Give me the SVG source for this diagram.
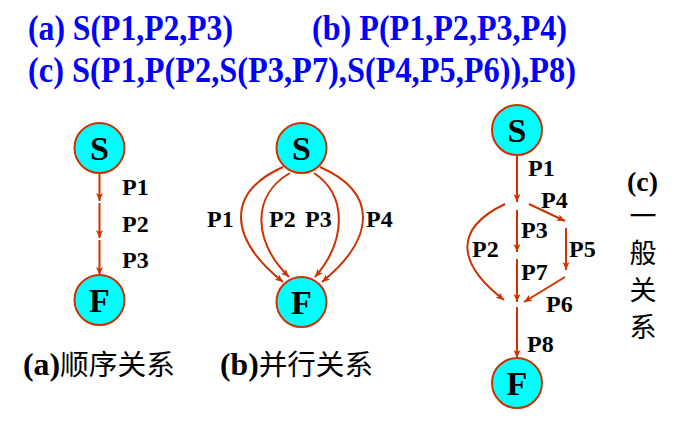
<svg xmlns="http://www.w3.org/2000/svg" width="684" height="428" viewBox="0 0 684 428">
<style>
.title{font-family:"Liberation Serif","Times New Roman",serif;font-weight:bold;font-size:35px;fill:#0000FF}
.node circle{fill:#00FFFF;stroke:#CC3300;stroke-width:2}
.node text{font-family:"Liberation Serif","Times New Roman",serif;font-weight:bold;font-size:34px;fill:#000;text-anchor:middle}
.lbl{font-family:"Liberation Serif","Times New Roman",serif;font-weight:bold;font-size:24px;fill:#000}
.edge{fill:none;stroke:#CC3300;stroke-width:2;marker-end:url(#arr)}
.cap{font-size:28px;fill:#000}
.lat{font-family:"Liberation Serif","Times New Roman",serif;font-weight:bold}
.cjk{font-family:"Noto Sans CJK SC",sans-serif;font-weight:normal}
</style>
<defs>
<marker id="arr" markerUnits="userSpaceOnUse" markerWidth="10" markerHeight="8" refX="8" refY="3.5" orient="auto">
<path d="M0,0 L8,3.5 L0,7 L2,3.5 z" fill="#CC3300"/>
</marker>
</defs>
<rect width="684" height="428" fill="#fff"/>
<text class="title" x="28" y="40" textLength="205" lengthAdjust="spacingAndGlyphs">(a) S(P1,P2,P3)</text>
<text class="title" x="312" y="40" textLength="255" lengthAdjust="spacingAndGlyphs">(b) P(P1,P2,P3,P4)</text>
<text class="title" x="28" y="82" textLength="548" lengthAdjust="spacingAndGlyphs">(c) S(P1,P(P2,S(P3,P7),S(P4,P5,P6)),P8)</text>

<g id="connectors">
<path class="edge" d="M99.5,173 L99.5,201"/>
<path class="edge" d="M99.5,203 L99.5,238"/>
<path class="edge" d="M99.5,240 L99.5,275"/>

<path class="edge" d="M283,167 C227,192 227,237 283,282"/>
<path class="edge" d="M290,173 C252,195 252,240 289,277"/>
<path class="edge" d="M314,173 C347,195 347,240 315,277"/>
<path class="edge" d="M320,167 C377,192 377,237 322,282"/>

<path class="edge" d="M517,155 L517,202"/>
<path class="edge" d="M517,210 L517,252"/>
<path class="edge" d="M517,259 L517,302"/>
<path class="edge" d="M517,307 L517,358"/>
<path class="edge" d="M529,204 L565,221"/>
<path class="edge" d="M566,228 L566,270"/>
<path class="edge" d="M565,277 L524,302"/>
<path class="edge" d="M505,204 C455,228 455,262 504,300"/>
</g>

<g id="a-S" class="node"><circle cx="99.5" cy="148" r="25"/><text x="99.5" y="160">S</text></g>
<g id="a-F" class="node"><circle cx="99.5" cy="300" r="25"/><text x="99.5" y="312">F</text></g>
<g id="b-S" class="node"><circle cx="301.5" cy="148" r="25"/><text x="301.5" y="160">S</text></g>
<g id="b-F" class="node"><circle cx="301.5" cy="302" r="25"/><text x="301.5" y="314">F</text></g>
<g id="c-S" class="node"><circle cx="517" cy="130" r="25"/><text x="517" y="142">S</text></g>
<g id="c-F" class="node"><circle cx="517" cy="383" r="25"/><text x="517" y="395">F</text></g>

<g id="labels">
<text class="lbl" x="122" y="195">P1</text>
<text class="lbl" x="122" y="232">P2</text>
<text class="lbl" x="122" y="268">P3</text>

<text class="lbl" x="207" y="227">P1</text>
<text class="lbl" x="269" y="227">P2</text>
<text class="lbl" x="305" y="227">P3</text>
<text class="lbl" x="366" y="227">P4</text>

<text class="lbl" x="528" y="176">P1</text>
<text class="lbl" x="541" y="208">P4</text>
<text class="lbl" x="521" y="238">P3</text>
<text class="lbl" x="569" y="257">P5</text>
<text class="lbl" x="472" y="257">P2</text>
<text class="lbl" x="521" y="280">P7</text>
<text class="lbl" x="546" y="312">P6</text>
<text class="lbl" x="527" y="352">P8</text>
</g>

<g id="captions">
<text class="cap" x="23" y="375" textLength="152" lengthAdjust="spacingAndGlyphs"><tspan class="lat" font-size="31">(a)</tspan><tspan class="cjk">顺序关系</tspan></text>
<text class="cap" x="220" y="375" textLength="153" lengthAdjust="spacingAndGlyphs"><tspan class="lat" font-size="31">(b)</tspan><tspan class="cjk">并行关系</tspan></text>
<text class="cap lat" x="627" y="191" font-size="27" textLength="31" lengthAdjust="spacingAndGlyphs">(c)</text>
<g class="cjk" text-anchor="middle" dominant-baseline="central">
<text class="cjk" x="643" y="214" font-size="27">一</text>
<text class="cjk" x="643" y="251" font-size="27">般</text>
<text class="cjk" x="643" y="288" font-size="27">关</text>
<text class="cjk" x="643" y="325" font-size="27">系</text>
</g>
</g>
</svg>
